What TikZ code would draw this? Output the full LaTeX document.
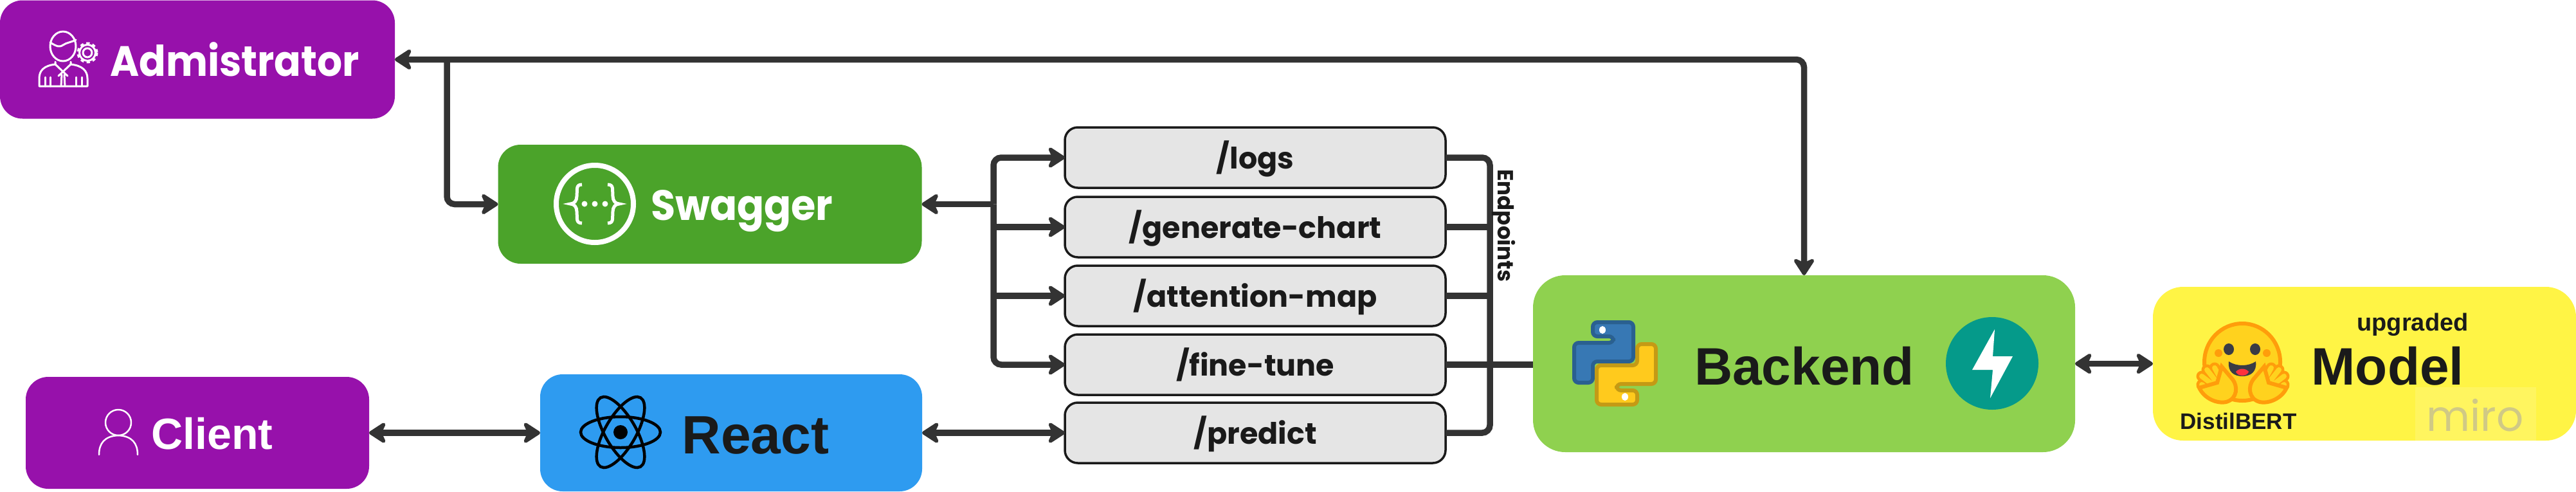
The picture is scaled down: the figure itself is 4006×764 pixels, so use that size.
\documentclass[tikz,border=0pt]{standalone}
\usepackage{fontspec}
\setmainfont{Poppins}
\newfontfamily\grot{Liberation Sans}
\usetikzlibrary{arrows.meta,calc}
\definecolor{cPurple}{HTML}{9711AB}
\definecolor{cGreen}{HTML}{4BA32A}
\definecolor{cBlue}{HTML}{2E9BF0}
\definecolor{cLime}{HTML}{8FD14F}
\definecolor{cYellow}{HTML}{FFF445}
\definecolor{cLine}{HTML}{333333}
\definecolor{cInk}{HTML}{1A1A1A}
\definecolor{cTeal}{HTML}{059A8A}
\definecolor{hfO}{HTML}{FF9D0B}
\definecolor{hfY}{HTML}{FFD21E}
\definecolor{pyBlue}{HTML}{3778B4}
\definecolor{pyBlueD}{HTML}{2A6090}
\definecolor{pyYel}{HTML}{FFCA1D}
\definecolor{pyYelD}{HTML}{C49A15}
\definecolor{hfDark}{HTML}{3A3B45}
\definecolor{hfRed}{HTML}{FF323D}
\definecolor{miroInk}{HTML}{D0C985}
\definecolor{miroBg}{HTML}{FFF55F}
\newcommand{\fs}[1]{\fontsize{#1}{#1}\selectfont}
\tikzset{
  panel/.style={rounded corners=#1,inner sep=0pt,outer sep=0pt},
  panel/.default=35pt,
  epbox/.style={draw=cInk,line width=3.5pt,fill=black!10,rounded corners=20pt,minimum width=592pt,minimum height=94pt,inner sep=0pt,outer sep=0pt},
  lab/.style={inner sep=0pt,outer sep=0pt,anchor=base},
  conn/.style={draw=cLine,line width=9.5pt,rounded corners=12pt},
  tip/.style={-{Stealth[round,length=31pt,width=40pt,inset=9pt]}},
  tips/.style={{Stealth[round,length=31pt,width=40pt,inset=9pt]}-{Stealth[round,length=31pt,width=40pt,inset=9pt]}},
  tipback/.style={{Stealth[round,length=31pt,width=40pt,inset=9pt]}-},
  icon/.style={draw=white,line width=3pt,line cap=round,line join=round}
}
\begin{document}
\begin{tikzpicture}[x=1pt,y=-1pt]
\useasboundingbox (0,0) rectangle (4006,764);
% panels
\node[panel,fill=cPurple,minimum width=614pt,minimum height=184pt] (admin) at (307,92.5) {};
\node[panel,fill=cGreen,minimum width=659pt,minimum height=185pt] (swagger) at (1104,317.5) {};
\node[panel,fill=cPurple,minimum width=534pt,minimum height=174pt] (client) at (307,673) {};
\node[panel,fill=cBlue,minimum width=594pt,minimum height=182pt] (react) at (1137,673) {};
\node[panel=50pt,fill=cLime,minimum width=843pt,minimum height=275pt] (backend) at (2805.5,565.5) {};
\node[panel=47pt,fill=cYellow,minimum width=658pt,minimum height=239pt] (model) at (3677,565.5) {};
% endpoint boxes
\node[epbox] (logs) at (1952,245) {};
\node[epbox] (gen) at (1952,353) {};
\node[epbox] (att) at (1952,460) {};
\node[epbox] (fine) at (1952,567) {};
\node[epbox] (pred) at (1952,673) {};
% hubs
\coordinate (hubA) at (695,92.5);
\coordinate (hubS) at (1545,317.5);
\coordinate (hubE) at (2317,567);
% connectors
\draw[conn,tips] (admin.east) -| (backend.north);
\draw[conn,tip] (hubA) |- (swagger.west);
\draw[conn,tipback] (swagger.east) -- (hubS);
\draw[conn,tip] (hubS) |- (logs.west);
\draw[conn,tip] (hubS) |- (fine.west);
\draw[conn,tip] (gen.west -| hubS) -- (gen.west);
\draw[conn,tip] (att.west -| hubS) -- (att.west);
\draw[conn] (logs.east) -| (hubE);
\draw[conn] (pred.east) -| (hubE);
\draw[conn] (gen.east) -- (gen.east -| hubE);
\draw[conn] (att.east) -- (att.east -| hubE);
\draw[conn] (fine.east) -- (fine.east -| backend.west);
\draw[conn,tips] (client.east) -- (react.west);
\draw[conn,tips] (react.east) -- (pred.west);
\draw[conn,tips] (backend.east) -- (model.west);
% labels
\node[lab,text=white,font=\bfseries\fs{66}] (tAdmin) at (365,118) {\scalebox{.93}[1]{Admistrator}};
\node[lab,text=white,font=\bfseries\fs{66}] (tSwagger) at (1154,342) {\scalebox{.94}[1]{Swagger}};
\node[lab,text=white,font=\grot\bfseries\fs{68}] (tClient) at (330,698) {Client};
\node[lab,text=cInk,font=\grot\bfseries\fs{84}] (tReact) at (1175,705) {React};
\node[lab,text=cInk,font=\grot\bfseries\fs{82}] (tBackend) at (2806,598) {Backend};
\node[lab,text=cInk,font=\grot\bfseries\fs{82}] (tModel) at (3713,598) {Model};
\node[lab,text=cInk,font=\grot\bfseries\fs{38}] (tUp) at (3752,514) {upgraded};
\node[lab,text=cInk,font=\grot\bfseries\fs{35}] (tDist) at (3481,667) {DistilBERT};
\node[lab,text=cInk,font=\bfseries\fs{46}] (lLogs) at (1952,262) {/logs};
\node[lab,text=cInk,font=\bfseries\fs{46}] (lGen) at (1952,370) {/generate-chart};
\node[lab,text=cInk,font=\bfseries\fs{46}] (lAtt) at (1952,477) {/attention-map};
\node[lab,text=cInk,font=\bfseries\fs{46}] (lFine) at (1952,584) {/fine-tune};
\node[lab,text=cInk,font=\bfseries\fs{46}] (lPred) at (1952,690) {/predict};
\node[inner sep=0pt,rotate=-90,text=cInk,font=\bfseries\fs{34}] (tEnd) at (2339,351) {Endpoints};
% miro watermark
\fill[miroBg] (3756,602) rectangle (3944,685);
\node[lab,text=miroInk,font=\fs{66}] (tMiro) at (3849,670) {miro};
% admin icon
\draw[icon] (98,72) ellipse (20 and 23);
\draw[icon] (78,66) .. controls (88,72) and (92,74) .. (98,70) .. controls (104,66) and (110,66) .. (118,62);
\draw[icon] (86,96) -- (86,100) .. controls (68,102) and (61,110) .. (61,122) -- (61,134) -- (136,134) -- (136,122) .. controls (136,110) and (128,102) .. (110,100) -- (110,96);
\draw[icon] (86,100) -- (105,118) (110,100) -- (91,118) (96,116) -- (95,134) (100,116) -- (101,134);
\draw[icon] (70,120) -- (70,134) (78,120) -- (78,134) (118,120) -- (118,134) (127,120) -- (127,134);
\draw[icon] (136,82) circle (7);
\draw[icon,line width=4pt,line cap=butt,dash pattern=on 5pt off 4.5pt] (136,82) circle (14.5);
\draw[icon] (136,82) circle (12.5);
% swagger icon
\draw[draw=white,line width=8pt] (925,317) circle (60);
\draw[draw=white,line width=5pt,line cap=butt] (905,287) .. controls (895,287) and (898,295) .. (897,305) .. controls (897,312) and (893,317) .. (887,317) .. controls (893,317) and (897,322) .. (897,329) .. controls (898,339) and (895,347) .. (905,347);
\draw[draw=white,line width=5pt,line cap=butt] (945,287) .. controls (955,287) and (952,295) .. (953,305) .. controls (953,312) and (957,317) .. (963,317) .. controls (957,317) and (953,322) .. (953,329) .. controls (952,339) and (955,347) .. (945,347);
\fill[white] (909,317) circle (4.5) (925,317) circle (4.5) (941,317) circle (4.5);
% client icon
\draw[icon,line width=2.5pt] (184,657) ellipse (20 and 20);
\draw[icon,line width=2.5pt] (154,707) .. controls (154,690) and (162,678) .. (184,677) .. controls (206,678) and (214,690) .. (214,707);
% react icon
\draw[black,line width=4.5pt] (965,672) ellipse (62 and 24);
\draw[black,line width=4.5pt,rotate around={60:(965,672)}] (965,672) ellipse (62 and 24);
\draw[black,line width=4.5pt,rotate around={-60:(965,672)}] (965,672) ellipse (62 and 24);
\fill[black] (965,672) circle (11);
% python icon
\filldraw[fill=pyBlue,draw=pyBlueD,line width=6pt,rounded corners=7pt]
 (2477,523) -- (2477,501) -- (2540,501) -- (2540,562) -- (2477,562) -- (2477,595) -- (2448,595) -- (2448,533) -- (2509,533) -- (2509,523) -- cycle;
\filldraw[fill=pyYel,draw=pyYelD,line width=6pt,rounded corners=7pt]
 (2546,607) -- (2546,629) -- (2483,629) -- (2483,568) -- (2546,568) -- (2546,535) -- (2575,535) -- (2575,597) -- (2514,597) -- (2514,607) -- cycle;
\fill[white] (2492,513) ellipse (5 and 6) (2527,617) ellipse (5 and 6);
% fastapi icon
\fill[cTeal] (3098,565) circle (72);
\fill[white] (3102,512) -- (3067,575) -- (3099,575) -- (3095,619) -- (3130,554) -- (3099,554) -- cycle;
% huggingface icon
\filldraw[fill=hfY,draw=hfO,line width=6pt] (3487,563) ellipse (59 and 60);
\fill[hfO] (3450,549) circle (6) (3525,549) circle (6);
\fill[hfDark] (3466,543) ellipse (8 and 9) (3507,543) ellipse (8 and 9);
\fill[hfDark] (3466,562) .. controls (3478,570) and (3496,570) .. (3508,562) .. controls (3510,578) and (3500,585) .. (3487,585) .. controls (3474,585) and (3464,578) .. (3466,562) -- cycle;
\fill[hfRed] (3477,578) .. controls (3482,572) and (3492,572) .. (3497,578) .. controls (3494,586) and (3480,586) .. (3477,578) -- cycle;
\foreach \s/\c in {hfO/17,hfY/8}{
  \begin{scope}[line cap=round,draw=\s,line width=\c pt]
   \draw (3424,585) -- (3441,598) (3424,598) -- (3438,608) (3432,575) -- (3447,594) (3444,572) -- (3455,592);
   \draw (3552,585) -- (3535,598) (3552,598) -- (3538,608) (3544,575) -- (3529,594) (3532,572) -- (3521,592);
  \end{scope}
}
\filldraw[fill=hfY,draw=hfO,line width=6pt] (3420,603) .. controls (3428,620) and (3448,628) .. (3462,625) .. controls (3480,620) and (3480,600) .. (3472,590) -- (3455,570) -- (3448,595) -- cycle;
\filldraw[fill=hfY,draw=hfO,line width=6pt] (3556,603) .. controls (3548,620) and (3528,628) .. (3514,625) .. controls (3496,620) and (3496,600) .. (3504,590) -- (3521,570) -- (3528,595) -- cycle;
\end{tikzpicture}
\end{document}
